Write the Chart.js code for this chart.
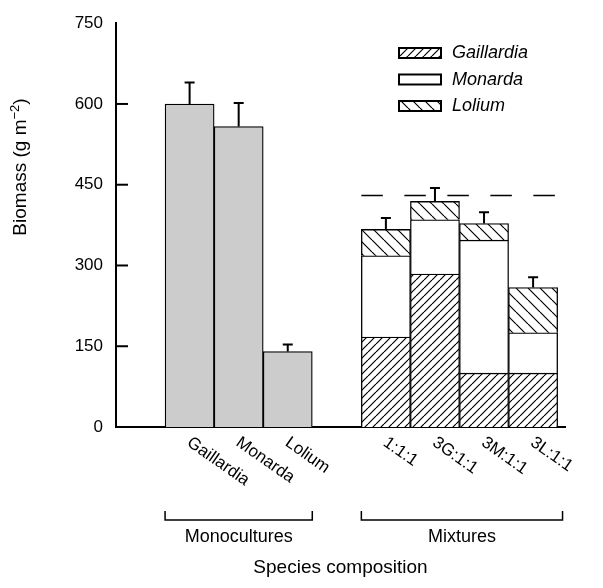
<!DOCTYPE html>
<html>
<head>
<meta charset="utf-8">
<script src="https://cdn.jsdelivr.net/npm/chart.js@4.4.1/dist/chart.umd.min.js"></script>
<style>
  html, body { margin: 0; padding: 0; background: #fff; }
  #wrap { width: 603px; height: 588px; }
</style>
</head>
<body>
<div id="wrap"><canvas id="biomassChart" width="603" height="588"></canvas></div>
<script>
// values
const monoNames = ['Gaillardia', 'Monarda', 'Lolium'];
const mixNames = ['1:1:1', '3G:1:1', '3M:1:1', '3L:1:1'];
const monoBiomass = [600, 558, 140];
const monoErr = [40, 44, 13];
const mixGaillardia = [167, 284, 100, 100];
const mixMonarda = [151, 101, 247, 75];
const mixLolium = [49, 34, 31, 84];
const mixErr = [21, 25, 21, 19];
const expectedYield = 430;
const yTicks = [0, 150, 300, 450, 600, 750];
const groupNames = ['Monocultures', 'Mixtures'];
const speciesNames = ['Gaillardia', 'Monarda', 'Lolium'];

// slot index of each bar (one empty slot between the groups)
const monoPos = monoNames.map((_, i) => i);
const mixPos = mixNames.map((_, i) => i + monoNames.length + 1);
const mixTotal = mixGaillardia.map((g, i) => g + mixMonarda[i] + mixLolium[i]);

const FONT = '"Liberation Sans", Arial, Helvetica, sans-serif';
Chart.defaults.font.family = FONT;
Chart.defaults.color = '#000';

function hatch(size, dir) {
  const c = document.createElement('canvas');
  c.width = c.height = size;
  const g = c.getContext('2d');
  g.fillStyle = '#fff';
  g.fillRect(0, 0, size, size);
  g.strokeStyle = '#000';
  g.lineWidth = 1.2;
  g.beginPath();
  for (let k = -1; k <= 1; k++) {
    if (dir === '/') { g.moveTo(k * size, size); g.lineTo(k * size + size, 0); }
    else { g.moveTo(k * size, 0); g.lineTo(k * size + size, size); }
  }
  g.stroke();
  return g.createPattern(c, 'repeat');
}
const patG = hatch(8, '/');
const patL = hatch(12, '\\');
const speciesFill = [patG, '#fff', patL];

const pts = (xs, ys) => xs.map((x, i) => ({ x: x, y: ys[i] }));

const barStyle = { borderColor: '#000', borderWidth: 1.3, stack: 's', categoryPercentage: 1, barPercentage: 1 };

// extras: inward ticks, error bars, rotated labels, brackets, legend, y title
const extras = {
  id: 'extras',
  afterDatasetsDraw(chart) {
    const ctx = chart.ctx, x = chart.scales.x, y = chart.scales.y;
    ctx.save();
    ctx.strokeStyle = '#000';
    ctx.lineWidth = 2;
    const err = (pos, top, e) => {
      const px = x.getPixelForValue(pos);
      const y0 = y.getPixelForValue(top), y1 = y.getPixelForValue(top + e);
      ctx.beginPath();
      ctx.moveTo(px, y0); ctx.lineTo(px, y1);
      ctx.moveTo(px - 5, y1); ctx.lineTo(px + 5, y1);
      ctx.stroke();
    };
    monoPos.forEach((p, i) => err(p, monoBiomass[i], monoErr[i]));
    mixPos.forEach((p, i) => err(p, mixTotal[i], mixErr[i]));
    ctx.restore();
  },
  afterDraw(chart) {
    const ctx = chart.ctx, x = chart.scales.x, y = chart.scales.y;
    const area = chart.chartArea;
    ctx.save();
    ctx.strokeStyle = '#000';
    ctx.fillStyle = '#000';

    // inward tick marks
    ctx.lineWidth = 2;
    yTicks.slice(1, -1).forEach(v => {
      const py = y.getPixelForValue(v);
      ctx.beginPath();
      ctx.moveTo(area.left, py); ctx.lineTo(area.left + 12, py);
      ctx.stroke();
    });

    // rotated category labels
    ctx.font = '17px ' + FONT;
    ctx.textAlign = 'left';
    ctx.textBaseline = 'top';
    const label = (pos, text) => {
      ctx.save();
      ctx.translate(x.getPixelForValue(pos) + 4, area.bottom + 7);
      ctx.rotate(35 * Math.PI / 180);
      ctx.fillText(text, 0, 0);
      ctx.restore();
    };
    monoPos.forEach((p, i) => label(p, monoNames[i]));
    mixPos.forEach((p, i) => label(p, mixNames[i]));

    // group brackets
    const groups = [[monoPos[0] - 0.5, monoPos[monoPos.length - 1] + 0.5], [mixPos[0] - 0.5, mixPos[mixPos.length - 1] + 0.6]];
    ctx.lineWidth = 1.5;
    ctx.font = '18px ' + FONT;
    ctx.textAlign = 'center';
    ctx.textBaseline = 'middle';
    groups.forEach((g, i) => {
      const a = x.getPixelForValue(g[0]), b = x.getPixelForValue(g[1]);
      ctx.beginPath();
      ctx.moveTo(a, 511); ctx.lineTo(a, 520); ctx.lineTo(b, 520); ctx.lineTo(b, 511);
      ctx.stroke();
      ctx.fillText(groupNames[i], (a + b) / 2, 537);
    });

    // legend
    ctx.textAlign = 'left';
    ctx.font = 'italic 18px ' + FONT;
    speciesNames.forEach((name, i) => {
      const top = 48 + i * 26.5;
      ctx.fillStyle = speciesFill[i];
      ctx.fillRect(399, top, 42, 10);
      ctx.lineWidth = 2;
      ctx.strokeRect(399, top, 42, 10);
      ctx.fillStyle = '#000';
      ctx.fillText(name, 452, top + 5);
    });

    // y axis title with superscript
    const main = 'Biomass (g m', sup = '\u22122', close = ')';
    const big = '19px ' + FONT, small = '13px ' + FONT;
    ctx.font = big;
    const w1 = ctx.measureText(main).width, w3 = ctx.measureText(close).width;
    ctx.font = small;
    const w2 = ctx.measureText(sup).width;
    const total = w1 + w2 + w3;
    ctx.translate(20, 167);
    ctx.rotate(-Math.PI / 2);
    ctx.textBaseline = 'alphabetic';
    let cx = -total / 2;
    ctx.font = big;
    ctx.fillText(main, cx, 6);
    cx += w1;
    ctx.font = small;
    ctx.fillText(sup, cx, -1);
    cx += w2;
    ctx.font = big;
    ctx.fillText(close, cx, 6);
    ctx.restore();
  }
};

new Chart(document.getElementById('biomassChart'), {
  type: 'bar',
  data: {
    datasets: [
      Object.assign({ label: 'Monocultures', data: pts(monoPos, monoBiomass), backgroundColor: '#cccccc' }, barStyle),
      Object.assign({ label: 'Gaillardia', data: pts(mixPos, mixGaillardia), backgroundColor: patG }, barStyle),
      Object.assign({ label: 'Monarda', data: pts(mixPos, mixMonarda), backgroundColor: '#fff' }, barStyle),
      Object.assign({ label: 'Lolium', data: pts(mixPos, mixLolium), backgroundColor: patL }, barStyle),
      {
        type: 'line',
        label: 'expected',
        stack: 'dash',
        data: [{ x: mixPos[0] - 0.5, y: expectedYield }, { x: mixPos[mixPos.length - 1] + 0.5, y: expectedYield }],
        borderColor: '#000',
        borderWidth: 1.3,
        borderDash: [21.5, 21.5],
        pointRadius: 0,
        fill: false
      }
    ]
  },
  options: {
    responsive: false,
    animation: false,
    layout: { padding: { top: 19, right: 38, left: 0, bottom: 0 } },
    plugins: { legend: { display: false }, tooltip: { enabled: false } },
    scales: {
      x: {
        type: 'linear',
        min: -1.5,
        max: 7.65,
        offset: false,
        stacked: true,
        afterBuildTicks: s => { s.ticks = monoPos.concat(mixPos).map(v => ({ value: v })); },
        afterFit: s => { s.height = 161; },
        ticks: { display: false },
        grid: { display: false, drawTicks: false },
        border: { display: true, color: '#000', width: 2 },
        title: { display: true, text: 'Species composition', font: { size: 19 }, padding: { top: 0, bottom: 9 } }
      },
      y: {
        min: 0,
        max: 750,
        stacked: true,
        afterBuildTicks: s => { s.ticks = yTicks.map(v => ({ value: v })); },
        afterFit: s => { s.width = 116; },
        ticks: { padding: 13, font: { size: 17 } },
        grid: { display: false, drawTicks: false },
        border: { display: true, color: '#000', width: 2 }
      }
    }
  },
  plugins: [extras]
});
</script>
</body>
</html>
